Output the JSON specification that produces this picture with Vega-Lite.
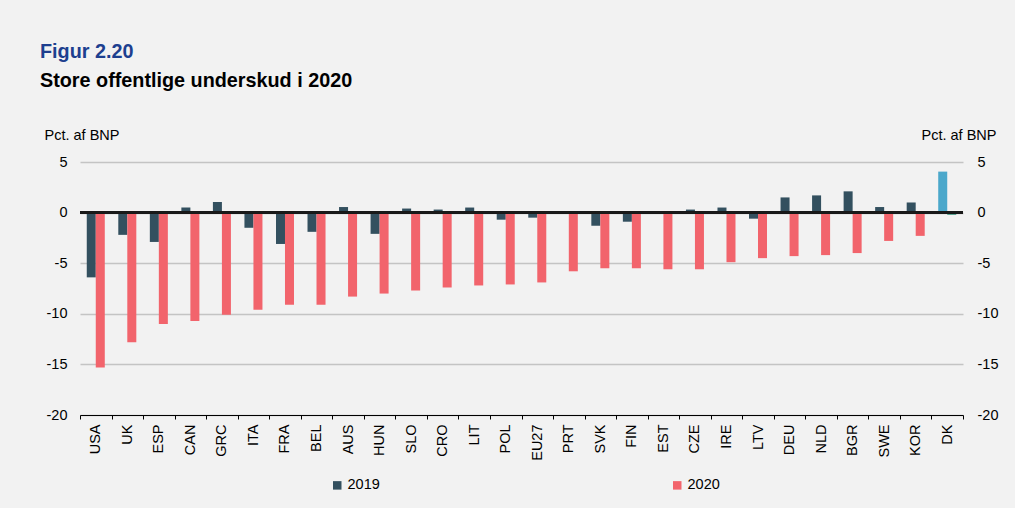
{
  "$schema": "https://vega.github.io/schema/vega-lite/v6.json",
  "width": 883,
  "height": 253,
  "autosize": {"type": "none"},
  "padding": {"left": 80, "top": 162, "right": 52, "bottom": 93},
  "background": "#f2f2f2",
  "config": {"font": "Liberation Sans", "view": {"stroke": null}},
  "title": {
    "text": "Figur 2.20",
    "subtitle": "Store offentlige underskud i 2020",
    "anchor": "start",
    "frame": "group",
    "dx": -40,
    "fontSize": 19.8,
    "fontWeight": "bold",
    "color": "#1d3f8f",
    "subtitleFontSize": 19.8,
    "subtitleFontWeight": "bold",
    "subtitleColor": "#000000",
    "subtitlePadding": 9,
    "offset": 36
  },
  "data": {
    "values": [
      {"land": "USA", "aar": "2019", "serie": "2019", "vaerdi": -6.4},
      {"land": "USA", "aar": "2020", "serie": "2020", "vaerdi": -15.3},
      {"land": "UK", "aar": "2019", "serie": "2019", "vaerdi": -2.2},
      {"land": "UK", "aar": "2020", "serie": "2020", "vaerdi": -12.8},
      {"land": "ESP", "aar": "2019", "serie": "2019", "vaerdi": -2.9},
      {"land": "ESP", "aar": "2020", "serie": "2020", "vaerdi": -11.0},
      {"land": "CAN", "aar": "2019", "serie": "2019", "vaerdi": 0.5},
      {"land": "CAN", "aar": "2020", "serie": "2020", "vaerdi": -10.7},
      {"land": "GRC", "aar": "2019", "serie": "2019", "vaerdi": 1.05},
      {"land": "GRC", "aar": "2020", "serie": "2020", "vaerdi": -10.1},
      {"land": "ITA", "aar": "2019", "serie": "2019", "vaerdi": -1.5},
      {"land": "ITA", "aar": "2020", "serie": "2020", "vaerdi": -9.6},
      {"land": "FRA", "aar": "2019", "serie": "2019", "vaerdi": -3.1},
      {"land": "FRA", "aar": "2020", "serie": "2020", "vaerdi": -9.1},
      {"land": "BEL", "aar": "2019", "serie": "2019", "vaerdi": -1.9},
      {"land": "BEL", "aar": "2020", "serie": "2020", "vaerdi": -9.1},
      {"land": "AUS", "aar": "2019", "serie": "2019", "vaerdi": 0.55},
      {"land": "AUS", "aar": "2020", "serie": "2020", "vaerdi": -8.3},
      {"land": "HUN", "aar": "2019", "serie": "2019", "vaerdi": -2.1},
      {"land": "HUN", "aar": "2020", "serie": "2020", "vaerdi": -8.0},
      {"land": "SLO", "aar": "2019", "serie": "2019", "vaerdi": 0.4},
      {"land": "SLO", "aar": "2020", "serie": "2020", "vaerdi": -7.7},
      {"land": "CRO", "aar": "2019", "serie": "2019", "vaerdi": 0.3},
      {"land": "CRO", "aar": "2020", "serie": "2020", "vaerdi": -7.4},
      {"land": "LIT", "aar": "2019", "serie": "2019", "vaerdi": 0.5},
      {"land": "LIT", "aar": "2020", "serie": "2020", "vaerdi": -7.2},
      {"land": "POL", "aar": "2019", "serie": "2019", "vaerdi": -0.7},
      {"land": "POL", "aar": "2020", "serie": "2020", "vaerdi": -7.1},
      {"land": "EU27", "aar": "2019", "serie": "2019", "vaerdi": -0.5},
      {"land": "EU27", "aar": "2020", "serie": "2020", "vaerdi": -6.9},
      {"land": "PRT", "aar": "2019", "serie": "2019", "vaerdi": 0.1},
      {"land": "PRT", "aar": "2020", "serie": "2020", "vaerdi": -5.8},
      {"land": "SVK", "aar": "2019", "serie": "2019", "vaerdi": -1.3},
      {"land": "SVK", "aar": "2020", "serie": "2020", "vaerdi": -5.5},
      {"land": "FIN", "aar": "2019", "serie": "2019", "vaerdi": -0.9},
      {"land": "FIN", "aar": "2020", "serie": "2020", "vaerdi": -5.5},
      {"land": "EST", "aar": "2019", "serie": "2019", "vaerdi": 0.1},
      {"land": "EST", "aar": "2020", "serie": "2020", "vaerdi": -5.6},
      {"land": "CZE", "aar": "2019", "serie": "2019", "vaerdi": 0.3},
      {"land": "CZE", "aar": "2020", "serie": "2020", "vaerdi": -5.6},
      {"land": "IRE", "aar": "2019", "serie": "2019", "vaerdi": 0.5},
      {"land": "IRE", "aar": "2020", "serie": "2020", "vaerdi": -4.9},
      {"land": "LTV", "aar": "2019", "serie": "2019", "vaerdi": -0.6},
      {"land": "LTV", "aar": "2020", "serie": "2020", "vaerdi": -4.5},
      {"land": "DEU", "aar": "2019", "serie": "2019", "vaerdi": 1.5},
      {"land": "DEU", "aar": "2020", "serie": "2020", "vaerdi": -4.3},
      {"land": "NLD", "aar": "2019", "serie": "2019", "vaerdi": 1.7},
      {"land": "NLD", "aar": "2020", "serie": "2020", "vaerdi": -4.2},
      {"land": "BGR", "aar": "2019", "serie": "2019", "vaerdi": 2.1},
      {"land": "BGR", "aar": "2020", "serie": "2020", "vaerdi": -4.0},
      {"land": "SWE", "aar": "2019", "serie": "2019", "vaerdi": 0.55},
      {"land": "SWE", "aar": "2020", "serie": "2020", "vaerdi": -2.8},
      {"land": "KOR", "aar": "2019", "serie": "2019", "vaerdi": 1.0},
      {"land": "KOR", "aar": "2020", "serie": "2020", "vaerdi": -2.3},
      {"land": "DK", "aar": "2019", "serie": "DK 2019", "vaerdi": 4.05},
      {"land": "DK", "aar": "2020", "serie": "DK 2020", "vaerdi": -0.2}
    ]
  },
  "layer": [
    {
      "mark": {"type": "bar"},
      "encoding": {
        "x": {
          "field": "land",
          "type": "nominal",
          "sort": null,
          "scale": {"paddingInner": 0, "paddingOuter": 0},
          "axis": {
            "title": null,
            "labelAngle": -90,
            "labelFontSize": 14.5,
            "labelColor": "#000000",
            "labelPadding": 5,
            "tickBand": "extent",
            "tickSize": 4,
            "tickColor": "#000000",
            "domainColor": "#000000",
            "domainWidth": 1,
            "grid": false
          }
        },
        "xOffset": {
          "field": "aar",
          "type": "nominal",
          "scale": {"paddingInner": 0, "paddingOuter": 0.75}
        },
        "y": {
          "field": "vaerdi",
          "type": "quantitative",
          "scale": {"domain": [-20, 5], "nice": false, "zero": false},
          "axis": {
            "orient": "left",
            "values": [-20, -15, -10, -5, 0, 5],
            "labelExpr": "'' + datum.value",
            "title": "Pct. af BNP",
            "titleAngle": 0,
            "titleAlign": "left",
            "titleBaseline": "alphabetic",
            "titleX": -36,
            "titleY": -23,
            "titleFontSize": 14.5,
            "titleFontWeight": "normal",
            "titleColor": "#000000",
            "labelFontSize": 14.5,
            "labelColor": "#000000",
            "labelPadding": 13,
            "ticks": false,
            "domain": false,
            "grid": true,
            "gridColor": "#c4c4c4",
            "gridWidth": 1.5
          }
        },
        "color": {
          "field": "serie",
          "type": "nominal",
          "scale": {
            "domain": ["2019", "2020", "DK 2019", "DK 2020"],
            "range": ["#33505f", "#f2646c", "#4ba8cb", "#0a7d61"]
          },
          "legend": {
            "values": ["2019", "2020"],
            "title": null,
            "orient": "none",
            "legendX": 250,
            "legendY": 316,
            "direction": "horizontal",
            "columnPadding": 290,
            "symbolType": "square",
            "symbolSize": 72,
            "symbolStrokeWidth": 0,
            "symbolOffset": 0,
            "labelOffset": 3,
            "labelFontSize": 14.5,
            "labelColor": "#000000",
            "padding": 0
          }
        }
      }
    },
    {
      "mark": {"type": "rule", "color": "#1a1a1a", "strokeWidth": 1.5},
      "encoding": {
        "y": {
          "datum": 0,
          "type": "quantitative",
          "axis": {
            "orient": "right",
            "values": [-20, -15, -10, -5, 0, 5],
            "labelExpr": "'' + datum.value",
            "title": "Pct. af BNP",
            "titleAngle": 0,
            "titleAlign": "right",
            "titleBaseline": "alphabetic",
            "titleX": 33,
            "titleY": -23,
            "titleFontSize": 14.5,
            "titleFontWeight": "normal",
            "titleColor": "#000000",
            "labelFontSize": 14.5,
            "labelColor": "#000000",
            "labelPadding": 14,
            "ticks": false,
            "domain": false,
            "grid": false
          }
        }
      }
    }
  ],
  "resolve": {"axis": {"y": "independent"}}
}
